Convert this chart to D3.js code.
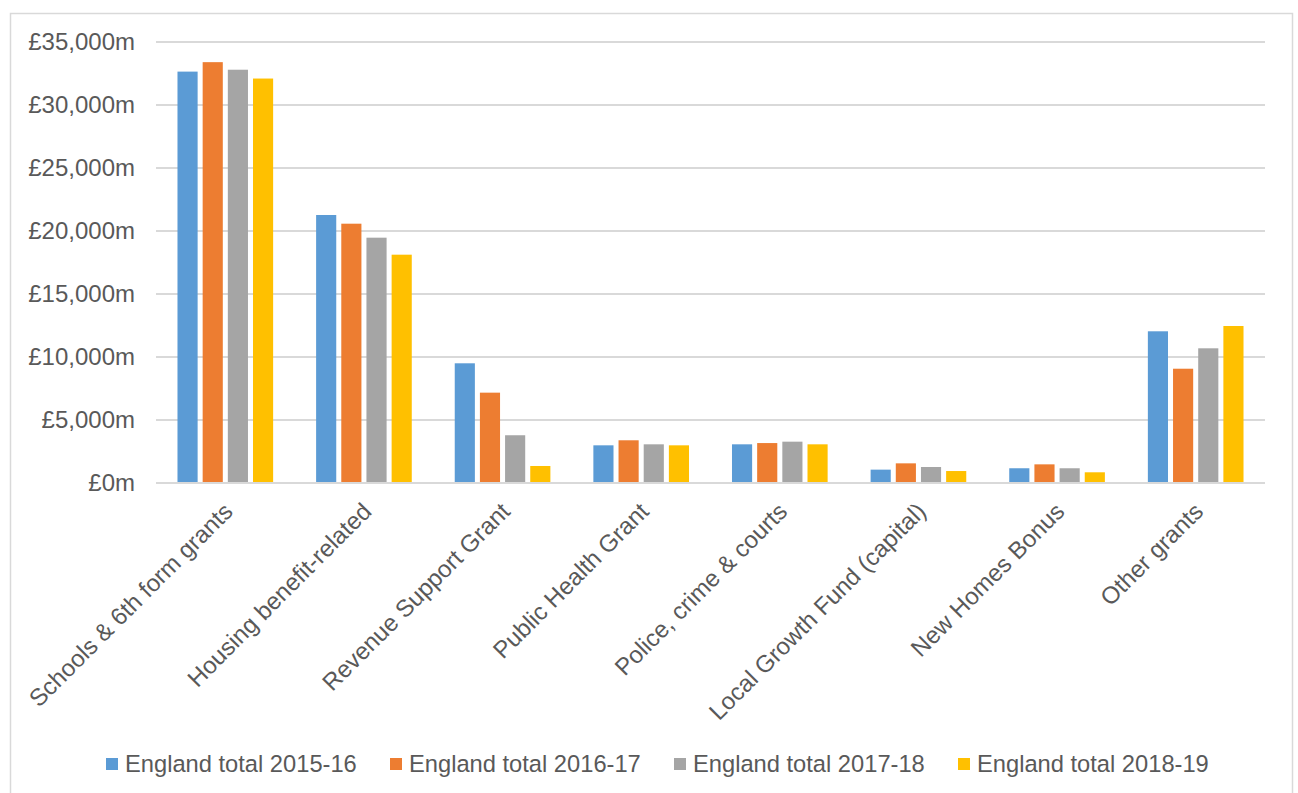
<!DOCTYPE html>
<html>
<head>
<meta charset="utf-8">
<script src="https://cdn.jsdelivr.net/npm/d3@7"></script>
<style>
  body { margin: 0; background: #fff; }
  text { font-family: "Liberation Sans", Arial, sans-serif; fill: #595959; }
</style>
</head>
<body>
<svg id="chart" width="1298" height="793"></svg>
<script>
'use strict'

// grant categories along the x axis
var categories = ['Schools & 6th form grants', 'Housing benefit-related', 'Revenue Support Grant',
  'Public Health Grant', 'Police, crime & courts', 'Local Growth Fund (capital)', 'New Homes Bonus', 'Other grants']

var seriesNames = ['England total 2015-16', 'England total 2016-17', 'England total 2017-18', 'England total 2018-19']
var seriesColors = ['#5B9BD5', '#ED7D31', '#A5A5A5', '#FFC000']

// £m
var total2015 = [32650, 21270, 9500, 2990, 3070, 1060, 1170, 12040]
var total2016 = [33400, 20580, 7170, 3390, 3170, 1560, 1480, 9070]
var total2017 = [32800, 19470, 3790, 3070, 3280, 1270, 1170, 10690]
var total2018 = [32100, 18120, 1350, 2990, 3070, 950, 850, 12460]

var yTicks = [0, 5000, 10000, 15000, 20000, 25000, 30000, 35000]

var values = [total2015, total2016, total2017, total2018]

var svg = d3.select('#chart'),
    margin = {top: 42, right: 33, bottom: 310, left: 156},
    width = +svg.attr('width') - margin.left - margin.right,
    height = +svg.attr('height') - margin.top - margin.bottom

// chart area border
svg.append('rect')
  .attr('x', 10.5).attr('y', 13.5)
  .attr('width', 1282).attr('height', 800)
  .attr('fill', 'none')
  .attr('stroke', '#D9D9D9')
  .attr('stroke-width', 1.5)

var g = svg.append('g')
  .attr('transform', 'translate(' + margin.left + ',' + margin.top + ')')

var x0 = d3.scaleBand()
  .domain(categories)
  .range([0, width])
  .paddingInner(0.31)
  .paddingOuter(0.155)

var x1 = d3.scaleBand()
  .domain(seriesNames)
  .range([0, x0.bandwidth()])
  .paddingInner(0.2)

var y = d3.scaleLinear()
  .domain([0, 35000])
  .range([height, 0])

// gridlines
g.append('g')
  .selectAll('line')
  .data(yTicks)
  .enter().append('line')
    .attr('x1', 0).attr('x2', width)
    .attr('y1', d => y(d)).attr('y2', d => y(d))
    .attr('stroke', '#D9D9D9')
    .attr('stroke-width', 2)

// y tick labels
g.append('g')
  .call(d3.axisLeft(y).tickValues(yTicks).tickSize(0).tickPadding(21)
    .tickFormat(d => '£' + d3.format(',')(d) + 'm'))
  .call(a => a.select('.domain').remove())
  .selectAll('text')
    .style('font-size', '24px')
    .attr('fill', '#595959')
    .attr('font-family', '"Liberation Sans", Arial, sans-serif')

// bars
var rows = categories.map((c, i) => ({cat: c, vals: seriesNames.map((s, j) => ({s: s, v: values[j][i], c: seriesColors[j]}))}))

g.append('g')
  .selectAll('g')
  .data(rows)
  .enter().append('g')
    .attr('transform', d => 'translate(' + x0(d.cat) + ',0)')
  .selectAll('rect')
  .data(d => d.vals)
  .enter().append('rect')
    .attr('x', d => x1(d.s))
    .attr('width', x1.bandwidth())
    .attr('y', d => y(d.v))
    .attr('height', d => y(0) - y(d.v) - 1)
    .attr('fill', d => d.c)

// rotated category labels
g.append('g')
  .selectAll('text')
  .data(categories)
  .enter().append('text')
    .attr('transform', d => 'translate(' + (x0(d) + x0.bandwidth() / 2 + 3) + ',' + (height + 24) + ') rotate(-45)')
    .attr('text-anchor', 'end')
    .attr('dy', '0.35em')
    .style('font-size', '24px')
    .text(d => d)

// legend
var legend = svg.append('g')
  .selectAll('g')
  .data(seriesNames)
  .enter().append('g')
    .attr('transform', (d, i) => 'translate(' + (106 + i * 284) + ',764)')

legend.append('rect')
  .attr('x', 0).attr('y', -6)
  .attr('width', 12).attr('height', 12)
  .attr('fill', (d, i) => seriesColors[i])

legend.append('text')
  .attr('x', 19)
  .attr('dy', '0.35em')
  .style('font-size', '23.7px')
  .text(d => d)
</script>
</body>
</html>
